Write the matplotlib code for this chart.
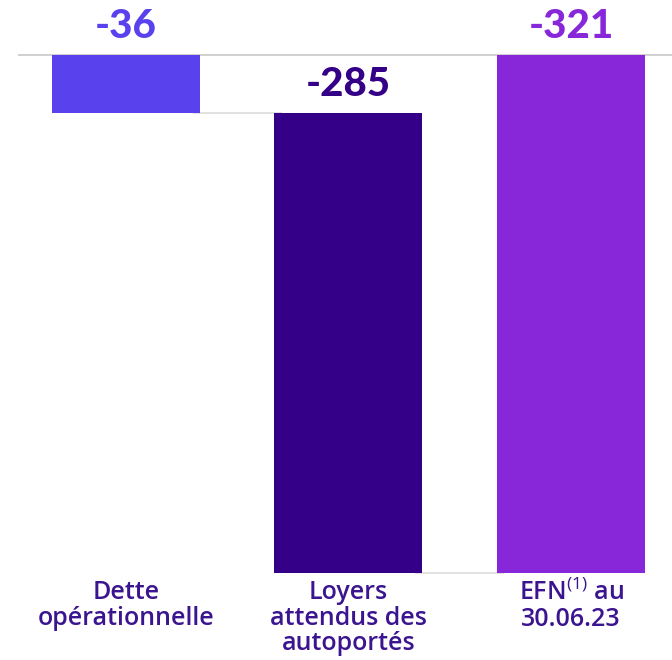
import matplotlib
matplotlib.use("Agg")
import matplotlib.pyplot as plt

labels = ["Dette\nopérationnelle", "Loyers\nattendus des\nautoportés", "EFN$^{\\mathrm{(1)}}$ au\n30.06.23"]
steps = [-36, -285]
total = -321
bar_colors = ["#5942ee", "#340087", "#8827d9"]
value_colors = ["#5942ee", "#340087", "#8827d9"]

plt.rcParams['font.family'] = ['Open Sans', 'DejaVu Sans']
plt.rcParams['mathtext.fontset'] = 'custom'
plt.rcParams['mathtext.rm'] = 'Open Sans'

# waterfall: bottoms and heights
bottoms = [0, steps[0], 0]
heights = [steps[0], steps[1], total]
values = [steps[0], steps[1], total]

fig = plt.figure(figsize=(6.72, 6.6), dpi=100)
ax = fig.add_axes([0, 0, 1, 1])
x = range(len(labels))
ax.bar(x, heights, bottom=bottoms, width=0.665, color=bar_colors, zorder=2)

# baseline and connectors
ax.hlines(0, -0.485, 2.46, color="#c8c8c8", lw=1.2, zorder=1)
ax.hlines(steps[0], 0.3, 0.7, color="#dcdcdc", lw=1.2, zorder=1)
ax.hlines(steps[0] + steps[1], 1.3, 1.7, color="#dcdcdc", lw=1.2, zorder=1)

for i, v in enumerate(values):
    top = max(bottoms[i], bottoms[i] + heights[i])
    ax.annotate(str(v), (i, top), xytext=(0, 7), textcoords="offset points",
                ha="center", va="bottom", fontsize=29, fontweight="black",
                color=value_colors[i], family=['Lato', 'DejaVu Sans'])
    ax.annotate(labels[i], (i, total), xytext=(0, -5), textcoords="offset points",
                ha="center", va="top", fontsize=18, fontweight="semibold",
                color="#3b1490", linespacing=1.03)

ax.set_xlim(-0.566, 2.454)
ax.set_ylim(-374.9, 34.1)
ax.axis("off")

fig.savefig("out.png", dpi=100)
